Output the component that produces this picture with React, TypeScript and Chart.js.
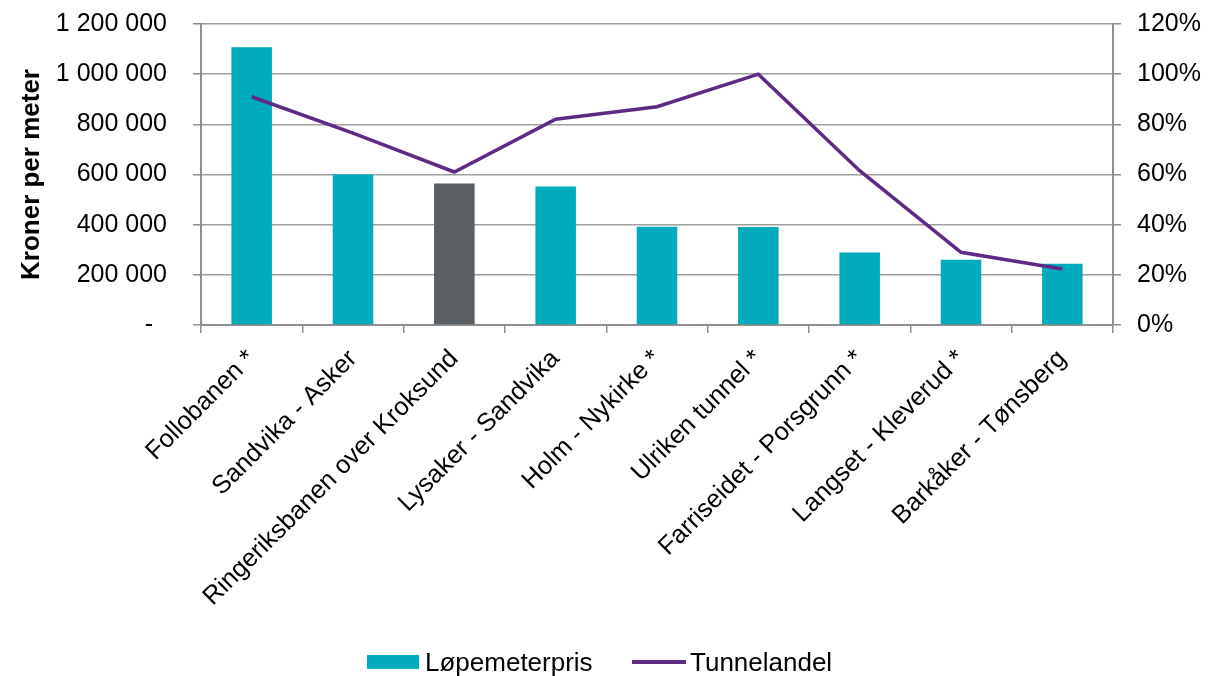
import React, { useEffect, useRef } from "react";
import { Chart, registerables } from "chart.js";

Chart.register(...registerables);

const categories = [
  "Follobanen *",
  "Sandvika - Asker",
  "Ringeriksbanen over Kroksund",
  "Lysaker - Sandvika",
  "Holm - Nykirke *",
  "Ulriken tunnel *",
  "Farriseidet - Porsgrunn *",
  "Langset - Kleverud *",
  "Barkåker - Tønsberg",
];
const lopemeterpris = [1107000, 600000, 564000, 552000, 392000, 391000, 289000, 260000, 244000];
const tunnelandel = [91, 76.5, 61, 82, 87, 100, 61.5, 29, 22.3];
const leftTicks = [0, 200000, 400000, 600000, 800000, 1000000, 1200000];
const rightTicks = [0, 20, 40, 60, 80, 100, 120];

const TEAL = "#00ABBD";
const GREY = "#5A5F63";
const PURPLE = "#5E2A84";
const FONT = "'Liberation Sans', Arial, sans-serif";

const barColors = categories.map((c) => (c.startsWith("Ringeriksbanen") ? GREY : TEAL));

function fmtKr(v: number): string {
  if (v === 0) return "-  ";
  return String(Math.round(v)).replace(/\B(?=(\d{3})+(?!\d))/g, " ");
}

export default function App() {
  const ref = useRef<HTMLCanvasElement | null>(null);
  useEffect(() => {
    if (!ref.current) return;
    const chart = new Chart(ref.current, {
      type: "bar",
      data: {
        labels: categories,
        datasets: [
          {
            type: "line",
            label: "Tunnelandel",
            data: tunnelandel,
            yAxisID: "y1",
            borderColor: PURPLE,
            backgroundColor: PURPLE,
            borderWidth: 3.5,
            pointRadius: 0,
            tension: 0,
            order: 0,
          } as any,
          {
            type: "bar",
            label: "Løpemeterpris",
            data: lopemeterpris,
            yAxisID: "y",
            backgroundColor: barColors,
            borderWidth: 0,
            barPercentage: 0.4,
            categoryPercentage: 1,
            order: 1,
          },
        ],
      },
      options: {
        responsive: false,
        animation: false,
        layout: { padding: { top: 24, left: 0, right: 0, bottom: 0 } },
        plugins: { legend: { display: false }, tooltip: { enabled: false } },
        scales: {
          x: {
            offset: true,
            grid: {
              offset: true,
              drawOnChartArea: false,
              drawTicks: true,
              tickLength: 8,
              color: "#8E8E8E",
              lineWidth: 1.5,
            },
            border: { color: "#8E8E8E", width: 2 },
            ticks: {
              autoSkip: false,
              minRotation: 45,
              maxRotation: 45,
              padding: 11,
              color: "#000",
              font: { family: FONT, size: 25.5 },
            },
            afterFit: (s: any) => {
              s.height = 351;
              s.paddingLeft = 0;
              s.paddingRight = 0;
              s.paddingTop = 0;
              s.paddingBottom = 0;
            },
          },
          y: {
            position: "left",
            min: 0,
            max: 1200000,
            afterBuildTicks: (s: any) => {
              s.ticks = leftTicks.map((v) => ({ value: v }));
            },
            grid: {
              color: "#A0A0A0",
              lineWidth: 1.5,
              drawTicks: true,
              tickLength: 8,
              tickColor: "#8E8E8E",
            },
            border: { color: "#8E8E8E", width: 2 },
            ticks: {
              padding: 26,
              color: "#000",
              font: { family: FONT, size: 25 },
              callback: (v: any) => fmtKr(Number(v)),
            },
            title: {
              display: true,
              text: "Kroner per meter",
              color: "#000",
              font: { family: FONT, size: 26, weight: "bold" },
              padding: { top: 16, bottom: 0 },
            },
            afterFit: (s: any) => {
              s.width = 201;
              s.paddingTop = 0;
              s.paddingBottom = 0;
            },
          },
          y1: {
            position: "right",
            min: 0,
            max: 120,
            afterBuildTicks: (s: any) => {
              s.ticks = rightTicks.map((v) => ({ value: v }));
            },
            grid: {
              drawOnChartArea: false,
              drawTicks: true,
              tickLength: 8,
              color: "#8E8E8E",
              lineWidth: 1.5,
            },
            border: { color: "#8E8E8E", width: 2 },
            ticks: {
              padding: 16,
              color: "#000",
              font: { family: FONT, size: 25 },
              callback: (v: any) => `${v}%`,
            },
            afterFit: (s: any) => {
              s.width = 105;
              s.paddingTop = 0;
              s.paddingBottom = 0;
            },
          },
        },
      },
    });
    return () => chart.destroy();
  }, []);

  const textStyle: React.CSSProperties = {
    position: "absolute",
    fontFamily: FONT,
    fontSize: 26,
    color: "#000",
    lineHeight: "30px",
    top: 647,
    whiteSpace: "nowrap",
  };

  return (
    <div style={{ position: "absolute", left: 0, top: 0, width: 1218, height: 676, background: "#fff" }}>
      <canvas ref={ref} width={1218} height={676} style={{ display: "block", width: 1218, height: 676 }} />
      <div style={{ position: "absolute", left: 367, top: 655, width: 52, height: 14, background: TEAL }} />
      <div style={{ ...textStyle, left: 425 }}>Løpemeterpris</div>
      <div style={{ position: "absolute", left: 632, top: 660, width: 54, height: 3.5, background: PURPLE }} />
      <div style={{ ...textStyle, left: 690 }}>Tunnelandel</div>
    </div>
  );
}
